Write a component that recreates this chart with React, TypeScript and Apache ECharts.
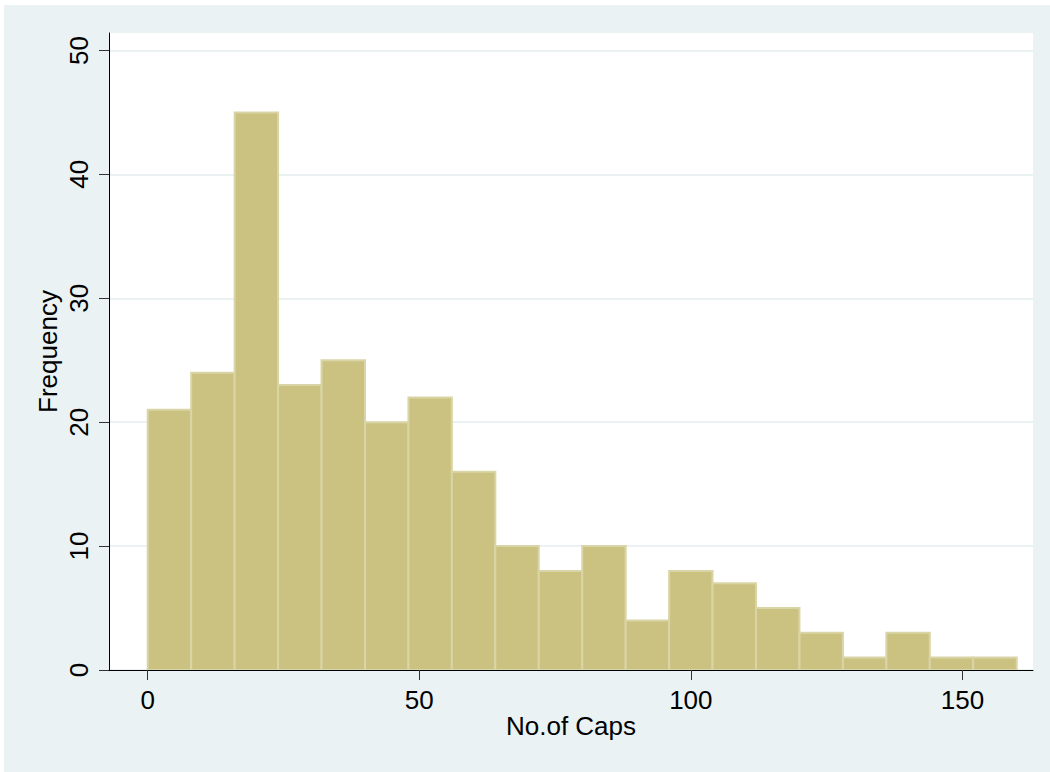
import React, { useEffect, useRef } from "react";
import * as echarts from "echarts";

const binStarts = [0, 8, 16, 24, 32, 40, 48, 56, 64, 72, 80, 88, 96, 104, 112, 120, 128, 136, 144, 152];
const binEnds = [8, 16, 24, 32, 40, 48, 56, 64, 72, 80, 88, 96, 104, 112, 120, 128, 136, 144, 152, 160];
const frequencies = [21, 24, 45, 23, 25, 20, 22, 16, 10, 8, 10, 4, 8, 7, 5, 3, 1, 3, 1, 1];
const xTicks = [0, 50, 100, 150];
const yTicks = [0, 10, 20, 30, 40, 50];

const FONT = "'Liberation Sans', Arial, sans-serif";

export default function App() {
  const ref = useRef<HTMLDivElement>(null);
  useEffect(() => {
    if (!ref.current) return;
    const chart = echarts.init(ref.current, null, { renderer: "svg" });
    const data = frequencies.map((f, i) => [binStarts[i], binEnds[i], f]);
    chart.setOption({
      animation: false,
      backgroundColor: "#EAF2F3",
      textStyle: { fontFamily: FONT },
      grid: {
        left: 105,
        top: 28,
        right: 17,
        bottom: 102,
        show: true,
        backgroundColor: "#ffffff",
        borderWidth: 0,
      },
      xAxis: {
        type: "value",
        min: -7.13,
        max: 163.0,
        z: 5,
        name: "No.of Caps",
        nameLocation: "middle",
        nameGap: 43,
        nameMoveOverlap: false,
        nameTextStyle: { fontSize: 26, color: "#000", fontFamily: FONT },
        axisLine: { show: true, onZero: false, lineStyle: { color: "#000", width: 1 } },
        axisTick: {
          show: true,
          length: 10,
          customValues: xTicks,
          lineStyle: { color: "#333", width: 1 },
        },
        axisLabel: {
          customValues: xTicks,
          fontSize: 26,
          color: "#000",
          margin: 17,
          fontFamily: FONT,
        },
        splitLine: { show: false },
      },
      yAxis: {
        type: "value",
        min: 0,
        max: 51.41,
        interval: 10,
        name: "Frequency",
        nameLocation: "middle",
        nameGap: 48,
        nameMoveOverlap: false,
        nameRotate: 90,
        nameTextStyle: { fontSize: 26, color: "#000", fontFamily: FONT },
        axisLine: { show: true, onZero: false, lineStyle: { color: "#000", width: 1 } },
        axisTick: {
          show: true,
          length: 10,
          customValues: yTicks,
          lineStyle: { color: "#333", width: 1 },
        },
        axisLabel: {
          customValues: yTicks,
          rotate: 90,
          fontSize: 26,
          color: "#000",
          margin: 17,
          fontFamily: FONT,
        },
        splitLine: {
          show: true,
          lineStyle: { color: "#EAF2F3", width: 2 },
        },
      },
      series: [
        {
          type: "custom",
          data,
          z: 2,
          encode: { x: [0, 1], y: 2 },
          renderItem: (params: any, api: any) => {
            const x0 = api.value(0);
            const x1 = api.value(1);
            const y = api.value(2);
            const p0 = api.coord([x0, y]);
            const p1 = api.coord([x1, 0]);
            return {
              type: "rect",
              shape: {
                x: p0[0],
                y: p0[1],
                width: p1[0] - p0[0],
                height: p1[1] - p0[1],
              },
              style: { fill: "#CBC282", stroke: "#DAD5A6", lineWidth: 2 },
            };
          },
        },
      ],
    });
    return () => chart.dispose();
  }, []);
  return (
    <div
      ref={ref}
      style={{
        position: "fixed",
        left: 4,
        top: 5,
        right: 0,
        bottom: 0,
        background: "#EAF2F3",
      }}
    />
  );
}
